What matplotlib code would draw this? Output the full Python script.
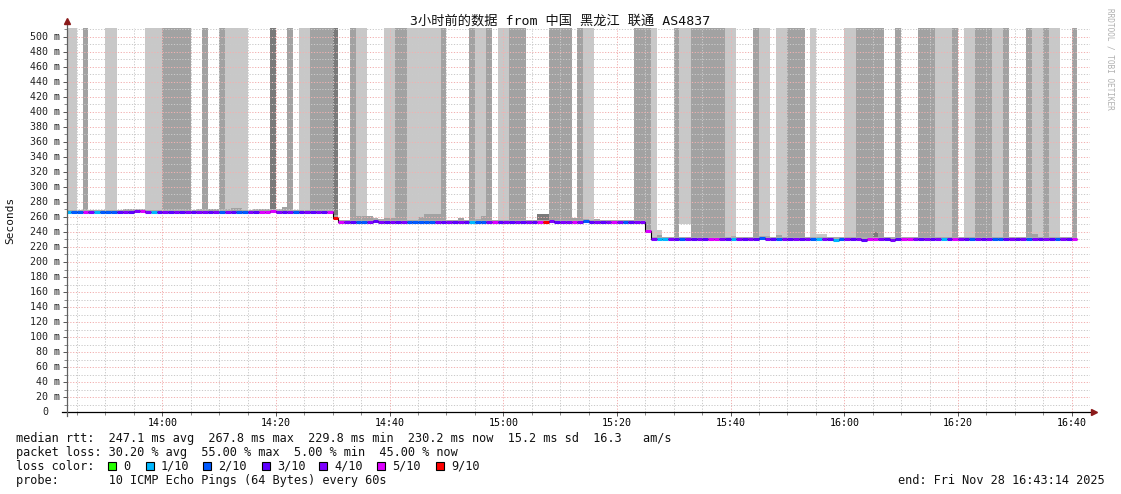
import matplotlib
matplotlib.use("Agg")
import matplotlib.pyplot as plt
import matplotlib.transforms as mtransforms
from matplotlib.patches import Rectangle
from matplotlib.ticker import MultipleLocator
import numpy as np

# ---------------- data (time in minutes relative to 14:00) ----------------
t_first = -17
median_ms = [
    266.5, 266.5, 266.5, 266.8, 266.5, 266.0, 266.3, 266.3, 266.3, 266.5,
    266.8, 266.5, 267.6, 267.8, 266.8, 266.2, 266.5, 266.5, 266.8, 267.0,
    267.2, 266.8, 266.8, 267.0, 267.0, 266.8, 266.5, 267.2, 267.0, 266.8,
    266.5, 266.5, 266.8, 267.0, 266.5, 266.5, 267.5, 267.2, 266.8, 266.8,
    266.2, 266.2, 266.5, 266.5, 266.5, 267.0, 267.2,
    259.0,
    253.0, 252.8, 252.8, 253.2, 253.2, 253.5, 255.0, 253.8, 253.5, 253.3,
    253.5, 253.2, 252.8, 252.8, 253.0, 253.0, 253.0, 253.2, 253.2, 253.5,
    253.3, 253.0, 253.0, 253.2, 253.8, 253.6, 253.2, 253.0, 253.2, 253.5,
    253.2, 253.0, 253.0, 253.3, 253.0, 253.0, 253.0, 254.3, 253.5, 253.0,
    253.0, 253.3, 253.5, 254.5, 253.5, 253.8, 253.5, 252.8, 253.0, 253.3,
    253.5, 253.2, 253.2, 253.2,
    241.0,
    230.8, 230.7, 230.7, 230.5, 230.5, 230.8, 230.5, 230.5, 230.7, 230.7,
    230.5, 230.5, 230.5, 230.7, 231.0, 230.7, 230.7, 230.8, 230.8, 231.8,
    231.0, 230.8, 230.5, 230.5, 230.7, 230.7, 230.5, 230.5, 230.8, 230.7,
    230.5, 230.5, 229.8, 230.2, 230.7, 230.5, 230.5, 229.9, 230.7, 230.7,
    230.5, 230.5, 229.9, 230.5, 230.7, 230.7, 230.5, 230.5, 230.7, 230.7,
    230.5, 230.5, 230.7, 231.0, 230.7, 230.5, 230.2, 230.5, 230.5, 230.5,
    230.2, 230.2, 230.7, 230.5, 230.5, 230.7, 230.3, 230.5, 230.5, 230.5,
    230.5, 230.3, 230.5, 230.5, 230.2,
]
lost_of_10 = [
    1, 2, 2, 5, 4, 1, 2, 2, 2, 3, 4, 3, 4, 5, 4, 1, 3, 4, 3, 4,
    3, 4, 3, 4, 4, 3, 4, 2, 4, 3, 2, 2, 4, 3, 5, 5, 5, 4, 3, 4,
    2, 3, 4, 3, 4, 3, 5,
    9,
    5, 4, 3, 2, 2, 4, 3, 4, 3, 4, 3, 4, 2, 2, 2, 2, 2, 4, 3, 4,
    3, 4, 3, 1, 2, 2, 4, 5, 3, 4, 3, 4, 3, 4, 3, 5, 9, 4, 3, 4,
    4, 5, 4, 2, 3, 4, 3, 4, 5, 4, 2, 3, 4, 4,
    5,
    4, 1, 1, 4, 3, 2, 4, 3, 4, 3, 5, 5, 4, 3, 1, 4, 3, 4, 3, 2,
    4, 3, 2, 4, 3, 4, 3, 4, 2, 1, 4, 3, 1, 2, 4, 3, 4, 3, 5, 5,
    4, 3, 4, 3, 5, 5, 4, 3, 4, 3, 4, 1, 3, 5, 4, 3, 2, 4, 3, 4,
    2, 2, 3, 4, 3, 4, 2, 4, 3, 4, 3, 2, 4, 3, 5,
]
# tall smoke columns: (start min, end min, shade level, floor ms or None)
smoke_columns = [
    (-17, -15, 1, None), (-14, -13, 2, None), (-10, -8, 1, None), (-3, 0, 1, None),
    (0, 5, 2, None), (7, 8, 2, None), (10, 11, 2, None), (11, 15, 1, None),
    (19, 20, 3, None), (22, 23, 2, None), (24, 26, 1, None), (26, 30, 2, None),
    (30, 31, 3, None), (33, 34, 2, None), (34, 36, 1, None), (39, 41, 1, None),
    (41, 43, 2, None), (43, 49, 1, None), (49, 50, 2, None), (54, 55, 2, None),
    (55, 57, 1, None), (57, 58, 2, None), (59, 61, 1, None), (61, 64, 2, None),
    (68, 72, 2, None), (73, 74, 2, None), (74, 76, 1, None), (83, 86, 2, None),
    (86, 87, 1, None), (90, 91, 2, None), (91, 93, 1, 250.0), (93, 99, 2, None),
    (99, 101, 1, None), (104, 105, 2, None), (105, 107, 1, None), (108, 110, 1, None),
    (110, 113, 2, None), (114, 115, 1, None), (120, 122, 1, None), (122, 127, 2, None),
    (129, 130, 2, None), (133, 136, 2, None), (136, 139, 1, None), (139, 140, 2, None),
    (141, 143, 1, None), (143, 146, 2, None), (146, 148, 1, None), (148, 149, 2, None),
    (152, 153, 2, None), (153, 155, 1, None), (155, 156, 2, None), (156, 158, 1, None),
    (160, 161, 2, None),
]
# small smoke patches near the median: (start, end, low ms, high ms, level)
smoke_patches = [
    (-7, -5, 268.5, 270.5, 2), (8, 10, 268.5, 271, 2), (12, 14, 268.5, 271.5, 2),
    (17, 19, 268.5, 271, 2), (21, 22, 268.5, 273, 2), (34, 37, 256, 261, 2),
    (39, 41, 256, 258.5, 2), (45, 46, 256, 260, 2), (46, 49, 256, 264, 2),
    (52, 53, 256, 258, 2), (56, 57, 256, 261, 2), (66, 68, 256, 264, 3),
    (68, 70, 256, 266, 2), (72, 74, 256, 258, 2), (86, 88, 233, 242.5, 1),
    (87, 88, 233, 236.5, 2), (98, 99, 233, 236, 2), (108, 109, 233, 236, 2),
    (115, 117, 233, 237, 1), (125, 126, 233, 240, 3), (126, 127, 233, 237, 2),
    (139, 140, 233, 236, 2), (144, 146, 233, 237, 2), (153, 154, 233, 237, 2),
    (155, 156, 233, 236, 2),
]
band_ms = 3.0
loss_colors = ["#26ff00", "#00b8ff", "#0059ff", "#5e00ff", "#7e00ff", "#dd00ff", "#ff0000"]
loss_labels = ["0", "1/10", "2/10", "3/10", "4/10", "5/10", "9/10"]
x_tick_minutes = [0, 20, 40, 60, 80, 100, 120, 140, 160]
x_tick_labels = ["14:00", "14:20", "14:40", "15:00", "15:20", "15:40", "16:00", "16:20", "16:40"]
y_tick_values = list(range(0, 501, 20))
title = "3小时前的数据 from 中国 黑龙江 联通 AS4837"
stats_lines = [
    "median rtt:  247.1 ms avg  267.8 ms max  229.8 ms min  230.2 ms now  15.2 ms sd  16.3   am/s",
    "packet loss: 30.20 % avg  55.00 % max  5.00 % min  45.00 % now",
    "loss color:",
    "probe:       10 ICMP Echo Pings (64 Bytes) every 60s",
]
end_text = "end: Fri Nov 28 16:43:14 2025"

# ---------------- style ----------------
shade = {1: "#c8c8c8", 2: "#a2a2a2", 3: "#7a7a7a"}
MONO = "DejaVu Sans Mono"
W, H = 1121, 494
LEG_FS = 8.55

def loss_class(n):
    if n <= 4:
        return n
    return 5 if n <= 8 else 6

fig = plt.figure(figsize=(W / 100, H / 100), dpi=100)
fig.patch.set_facecolor("white")
ax = fig.add_axes([67 / W, (H - 412) / H, (1090 - 67) / W, (412 - 28) / H])
ax.set_xlim(-16.77, 163.23)
ax.set_ylim(0, 512)
TOP = 600

med = np.array(median_ms)
times = t_first + np.arange(len(med))

# tall smoke columns (per minute)
for t0, t1, lvl, floor in smoke_columns:
    for m in range(t0, t1):
        i = m - t_first
        if i < 0 or i >= len(med):
            continue
        bottom = floor if floor is not None else med[i] + band_ms
        ax.bar(m, TOP - bottom, bottom=bottom, width=1, align="edge",
               color=shade[lvl], linewidth=0, antialiased=False, zorder=1)

# thin band just above the median
ax.bar(times, [band_ms] * len(med), bottom=med, width=1, align="edge",
       color="#ababab", linewidth=0, antialiased=False, zorder=1.1)

for t0, t1, lo, hi, lvl in smoke_patches:
    ax.bar(t0, hi - lo, bottom=lo, width=t1 - t0, align="edge",
           color=shade[lvl], linewidth=0, antialiased=False, zorder=1.2)

# grid
ax.set_axisbelow("line")
ax.set_xticks(x_tick_minutes)
ax.set_xticklabels(x_tick_labels, family=MONO, fontsize=7.2)
ax.xaxis.set_minor_locator(MultipleLocator(5))
ax.set_yticks(y_tick_values)
ax.set_yticklabels([""] * len(y_tick_values))
ax.yaxis.set_minor_locator(MultipleLocator(10))
ax.grid(which="minor", color="#cacaca", linestyle=(0, (1.2, 1.6)), linewidth=0.72)
ax.grid(which="major", color="#f2b0b0", linestyle=(0, (1.2, 1.6)), linewidth=0.72)
ax.tick_params(which="major", length=3, width=0.7, color="#555555", pad=1.5)
ax.tick_params(which="minor", length=2, width=0.7, color="#888888")
for s in ax.spines.values():
    s.set_visible(False)

# median: black step line + loss-coloured segments
edges = np.append(times, times[-1] + 1)
ax.stairs(med, edges, baseline=None, color="black", linewidth=0.8, zorder=3)
cols = [loss_colors[loss_class(n)] for n in lost_of_10]
ax.hlines(med, times, times + 1, colors=cols, linewidth=2.2, zorder=4)

# axes lines with arrows
ax.plot([-5 / 1023, 1 + 3 / 1023], [0, 0], transform=ax.transAxes, color="black",
        linewidth=0.9, clip_on=False, zorder=5)
ax.plot([0, 0], [-4 / 384, 1 + 5 / 384], transform=ax.transAxes, color="#606060",
        linewidth=0.9, clip_on=False, zorder=5)
ax.plot([1 + 4 / 1023], [0], transform=ax.transAxes, marker=">", markersize=4,
        color="#8b1a1a", clip_on=False, zorder=6, linestyle="none")
ax.plot([0], [1 + 7 / 384], transform=ax.transAxes, marker="^", markersize=4,
        color="#8b1a1a", clip_on=False, zorder=6, linestyle="none")

# y tick labels
ytrans = mtransforms.offset_copy(ax.get_yaxis_transform(), fig=fig, x=-7, y=0, units="dots")
ztrans = mtransforms.offset_copy(ax.get_yaxis_transform(), fig=fig, x=-19, y=0, units="dots")
for v in y_tick_values:
    if v == 0:
        ax.text(0, v, "0", transform=ztrans, ha="right", va="center",
                family=MONO, fontsize=7.2, color="#222222")
    else:
        ax.text(0, v, f"{v} m", transform=ytrans, ha="right", va="center",
                family=MONO, fontsize=7.2, color="#222222")

# texts
fig.text(560.5 / W, 1 - 21 / H, title, ha="center", va="center", fontsize=9.5,
         family=[MONO, "Noto Sans CJK SC"], color="#111111")
fig.text(10.5 / W, 1 - 220 / H, "Seconds", rotation=90, ha="center", va="center",
         family=MONO, fontsize=8, color="#111111")
fig.text(1110 / W, 1 - 59 / H, "RRDTOOL / TOBI OETIKER", rotation=-90, ha="center",
         va="center", family=MONO, fontsize=5.6, color="#b0b0b0")

line_y = [438, 452, 466, 480]
for txt, y in zip(stats_lines, line_y):
    fig.text(16 / W, 1 - y / H, txt, ha="left", va="center", family=MONO,
             fontsize=LEG_FS, color="#111111")
fig.text(1105 / W, 1 - 480 / H, end_text, ha="right", va="center", family=MONO,
         fontsize=LEG_FS, color="#111111")

sq_x = [108, 146, 203, 262, 319, 377, 436]
for x, c, lab in zip(sq_x, loss_colors, loss_labels):
    fig.add_artist(Rectangle((x / W, 1 - 470 / H), 8 / W, 8 / H, transform=fig.transFigure,
                             facecolor=c, edgecolor="black", linewidth=0.8))
    fig.text((x + 15) / W, 1 - 466 / H, lab, ha="left", va="center", family=MONO,
             fontsize=LEG_FS, color="#111111")

fig.savefig("out.png", dpi=100)
